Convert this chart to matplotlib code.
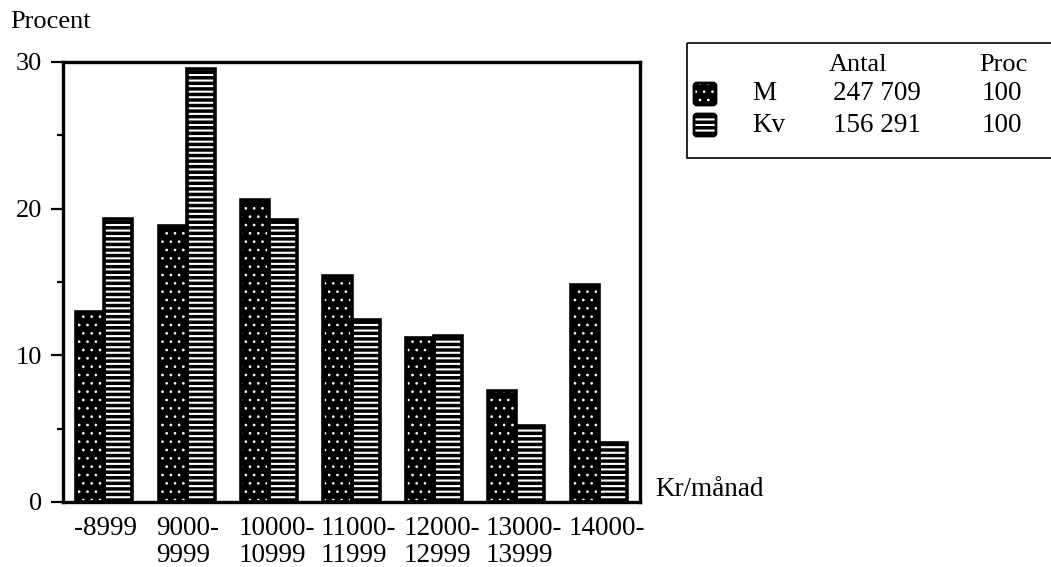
import matplotlib
matplotlib.use("Agg")
import matplotlib.pyplot as plt
import numpy as np
from matplotlib.patches import Rectangle, FancyBboxPatch

plt.rcParams["font.family"] = ["Liberation Serif", "DejaVu Serif"]
plt.rcParams["font.size"] = 18.5

# data
categories = ["-8999", "9000-\n9999", "10000-\n10999", "11000-\n11999",
              "12000-\n12999", "13000-\n13999", "14000-"]
m_values = [12.95, 18.8, 20.6, 15.4, 11.2, 7.6, 14.8]
kv_values = [19.3, 29.5, 19.2, 12.4, 11.35, 5.2, 4.0]
series_names = ["M", "Kv"]
antal = ["247 709", "156 291"]
proc = ["100", "100"]
yticks = [0, 10, 20, 30]

W, H = 1051, 567
fig = plt.figure(figsize=(W / 100, H / 100), dpi=100)
ax = fig.add_axes([63 / W, 1 - 502 / H, 577 / W, 440 / H])

x = np.arange(len(categories))
w = 0.34


def hatched_bars(ax, xpos, vals, hatch, hlw):
    bars = ax.bar(xpos, vals, w, color="black", edgecolor="white",
                  linewidth=0, hatch=hatch, zorder=2)
    for b in bars:
        if hasattr(b, "set_hatch_linewidth"):
            b.set_hatch_linewidth(hlw)
    ax.bar(xpos, vals, w, fill=False, edgecolor="black", linewidth=2.6,
           zorder=3)


plt.rcParams["hatch.linewidth"] = 0.7
hatched_bars(ax, x - w / 2, m_values, "..", 0.7)
plt.rcParams["hatch.linewidth"] = 1.5
hatched_bars(ax, x + w / 2, kv_values, "---", 1.5)

ax.set_xlim(-0.5, len(categories) - 0.5)
ax.set_ylim(0, 30)
ax.set_yticks(yticks)
ax.set_yticks([5, 15, 25], minor=True)
ax.tick_params(axis="y", which="major", length=9, width=1.6, pad=6,
               labelsize=19)
ax.tick_params(axis="y", which="minor", length=4.5, width=1.6)
ax.set_xticks(x - w - 0.03)
ax.set_xticklabels(categories, ha="left", linespacing=1.12)
ax.tick_params(axis="x", length=0, pad=10, labelsize=19.5)
for s in ax.spines.values():
    s.set_linewidth(2.4)

fig.text(10 / W, 1 - 22 / H, "Procent", va="center", ha="left", fontsize=19)
fig.text(655 / W, 1 - 490 / H, "Kr/månad", va="center", ha="left",
         fontsize=19.5)

# legend drawn in pixel coordinates on an overlay
lg = fig.add_axes([0, 0, 1, 1])
lg.set_xlim(0, W)
lg.set_ylim(H, 0)
lg.axis("off")
lg.add_patch(Rectangle((687, 43), 380, 115, fill=False, edgecolor="black",
                       linewidth=1.2))
lg.text(858, 65, "Antal", ha="center", va="center", fontsize=19)
lg.text(1003, 65, "Proc", ha="center", va="center", fontsize=19)
rows_y = [94, 125]
hatches = [("..", 0.7), ("---", 1.5)]
for i, name in enumerate(series_names):
    y = rows_y[i]
    h, hlw = hatches[i]
    plt.rcParams["hatch.linewidth"] = hlw
    p = FancyBboxPatch((694, y - 11), 22, 22,
                       boxstyle="round,pad=0,rounding_size=3",
                       facecolor="black", edgecolor="white", linewidth=0,
                       hatch=h)
    if hasattr(p, "set_hatch_linewidth"):
        p.set_hatch_linewidth(hlw)
    lg.add_patch(p)
    lg.add_patch(FancyBboxPatch((694, y - 11), 22, 22,
                                boxstyle="round,pad=0,rounding_size=3",
                                fill=False, edgecolor="black", linewidth=2))
    lg.text(752, y, name, ha="left", va="center", fontsize=19.5)
    lg.text(921, y, antal[i], ha="right", va="center", fontsize=19.5)
    lg.text(982, y, proc[i], ha="left", va="center", fontsize=19.5)

fig.savefig("out.png", dpi=100, facecolor="white")
